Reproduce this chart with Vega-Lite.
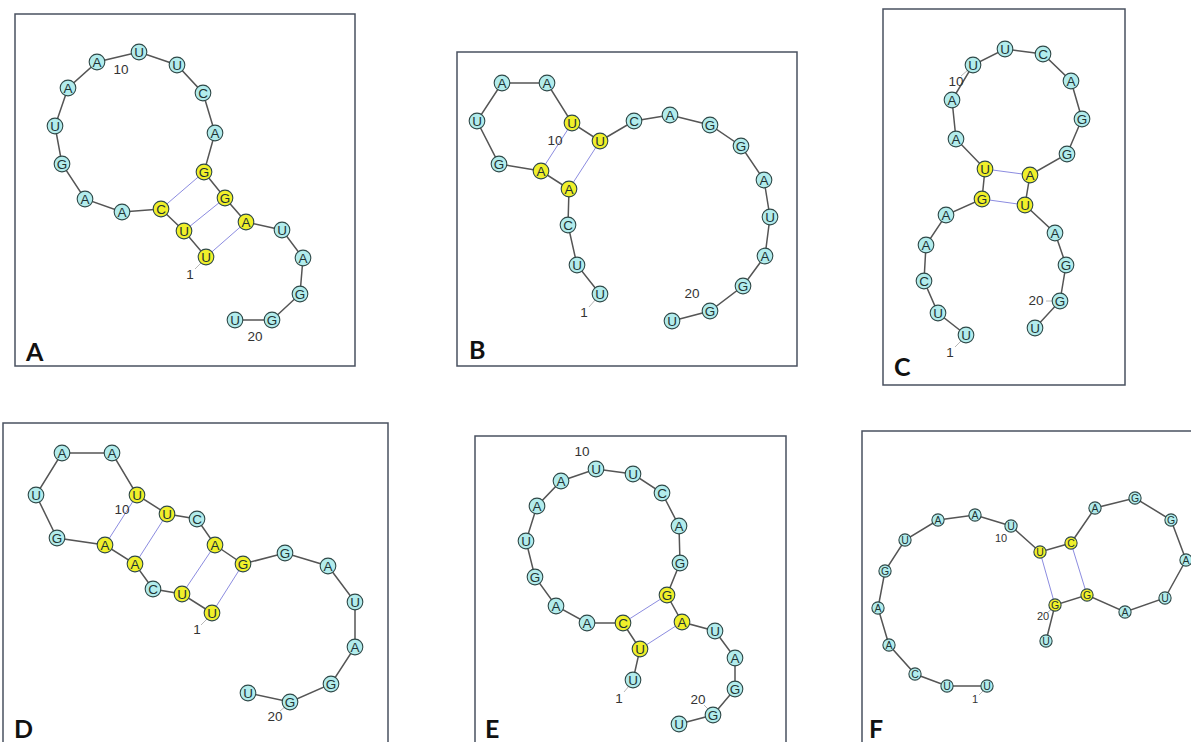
{
  "$schema": "https://vega.github.io/schema/vega-lite/v6.json",
  "width": 1191,
  "height": 742,
  "autosize": {"type": "none"},
  "padding": 0,
  "background": "white",
  "config": {"view": {"stroke": null}},
  "datasets": {
    "boxes": [
      {"p": "A", "x0": 15, "y0": 14, "x1": 355, "y1": 366, "lx": 26, "ly": 361},
      {"p": "B", "x0": 457, "y0": 52, "x1": 797, "y1": 366, "lx": 469, "ly": 359},
      {"p": "C", "x0": 883, "y0": 9, "x1": 1125, "y1": 385, "lx": 894, "ly": 376},
      {"p": "D", "x0": 3, "y0": 423, "x1": 388, "y1": 750, "lx": 14, "ly": 738},
      {"p": "E", "x0": 475, "y0": 436, "x1": 786, "y1": 750, "lx": 485, "ly": 738},
      {"p": "F", "x0": 862, "y0": 431, "x1": 1200, "y1": 750, "lx": 869, "ly": 738}
    ],
    "nodes": [
      {"id": "A1", "p": "A", "i": 1, "b": "U", "x": 206, "y": 257, "paired": true},
      {"id": "A2", "p": "A", "i": 2, "b": "U", "x": 184, "y": 231, "paired": true},
      {"id": "A3", "p": "A", "i": 3, "b": "C", "x": 161, "y": 209, "paired": true},
      {"id": "A4", "p": "A", "i": 4, "b": "A", "x": 122, "y": 212, "paired": false},
      {"id": "A5", "p": "A", "i": 5, "b": "A", "x": 85, "y": 199, "paired": false},
      {"id": "A6", "p": "A", "i": 6, "b": "G", "x": 62, "y": 164, "paired": false},
      {"id": "A7", "p": "A", "i": 7, "b": "U", "x": 55, "y": 126, "paired": false},
      {"id": "A8", "p": "A", "i": 8, "b": "A", "x": 68, "y": 88, "paired": false},
      {"id": "A9", "p": "A", "i": 9, "b": "A", "x": 97, "y": 62, "paired": false},
      {"id": "A10", "p": "A", "i": 10, "b": "U", "x": 139, "y": 52, "paired": false},
      {"id": "A11", "p": "A", "i": 11, "b": "U", "x": 177, "y": 65, "paired": false},
      {"id": "A12", "p": "A", "i": 12, "b": "C", "x": 203, "y": 93, "paired": false},
      {"id": "A13", "p": "A", "i": 13, "b": "A", "x": 215, "y": 133, "paired": false},
      {"id": "A14", "p": "A", "i": 14, "b": "G", "x": 204, "y": 172, "paired": true},
      {"id": "A15", "p": "A", "i": 15, "b": "G", "x": 225, "y": 198, "paired": true},
      {"id": "A16", "p": "A", "i": 16, "b": "A", "x": 246, "y": 222, "paired": true},
      {"id": "A17", "p": "A", "i": 17, "b": "U", "x": 282, "y": 230, "paired": false},
      {"id": "A18", "p": "A", "i": 18, "b": "A", "x": 303, "y": 258, "paired": false},
      {"id": "A19", "p": "A", "i": 19, "b": "G", "x": 300, "y": 294, "paired": false},
      {"id": "A20", "p": "A", "i": 20, "b": "G", "x": 272, "y": 320, "paired": false},
      {"id": "A21", "p": "A", "i": 21, "b": "U", "x": 235, "y": 320, "paired": false},

      {"id": "B1", "p": "B", "i": 1, "b": "U", "x": 600, "y": 294, "paired": false},
      {"id": "B2", "p": "B", "i": 2, "b": "U", "x": 577, "y": 265, "paired": false},
      {"id": "B3", "p": "B", "i": 3, "b": "C", "x": 568, "y": 225, "paired": false},
      {"id": "B4", "p": "B", "i": 4, "b": "A", "x": 569, "y": 189, "paired": true},
      {"id": "B5", "p": "B", "i": 5, "b": "A", "x": 541, "y": 171, "paired": true},
      {"id": "B6", "p": "B", "i": 6, "b": "G", "x": 499, "y": 164, "paired": false},
      {"id": "B7", "p": "B", "i": 7, "b": "U", "x": 477, "y": 121, "paired": false},
      {"id": "B8", "p": "B", "i": 8, "b": "A", "x": 502, "y": 83, "paired": false},
      {"id": "B9", "p": "B", "i": 9, "b": "A", "x": 547, "y": 83, "paired": false},
      {"id": "B10", "p": "B", "i": 10, "b": "U", "x": 572, "y": 123, "paired": true},
      {"id": "B11", "p": "B", "i": 11, "b": "U", "x": 600, "y": 141, "paired": true},
      {"id": "B12", "p": "B", "i": 12, "b": "C", "x": 634, "y": 121, "paired": false},
      {"id": "B13", "p": "B", "i": 13, "b": "A", "x": 670, "y": 115, "paired": false},
      {"id": "B14", "p": "B", "i": 14, "b": "G", "x": 710, "y": 125, "paired": false},
      {"id": "B15", "p": "B", "i": 15, "b": "G", "x": 741, "y": 146, "paired": false},
      {"id": "B16", "p": "B", "i": 16, "b": "A", "x": 764, "y": 180, "paired": false},
      {"id": "B17", "p": "B", "i": 17, "b": "U", "x": 770, "y": 217, "paired": false},
      {"id": "B18", "p": "B", "i": 18, "b": "A", "x": 765, "y": 256, "paired": false},
      {"id": "B19", "p": "B", "i": 19, "b": "G", "x": 743, "y": 286, "paired": false},
      {"id": "B20", "p": "B", "i": 20, "b": "G", "x": 710, "y": 311, "paired": false},
      {"id": "B21", "p": "B", "i": 21, "b": "U", "x": 672, "y": 321, "paired": false},

      {"id": "C1", "p": "C", "i": 1, "b": "U", "x": 966, "y": 335, "paired": false},
      {"id": "C2", "p": "C", "i": 2, "b": "U", "x": 938, "y": 313, "paired": false},
      {"id": "C3", "p": "C", "i": 3, "b": "C", "x": 924, "y": 281, "paired": false},
      {"id": "C4", "p": "C", "i": 4, "b": "A", "x": 926, "y": 245, "paired": false},
      {"id": "C5", "p": "C", "i": 5, "b": "A", "x": 946, "y": 215, "paired": false},
      {"id": "C6", "p": "C", "i": 6, "b": "G", "x": 982, "y": 199, "paired": true},
      {"id": "C7", "p": "C", "i": 7, "b": "U", "x": 985, "y": 169, "paired": true},
      {"id": "C8", "p": "C", "i": 8, "b": "A", "x": 956, "y": 139, "paired": false},
      {"id": "C9", "p": "C", "i": 9, "b": "A", "x": 952, "y": 100, "paired": false},
      {"id": "C10", "p": "C", "i": 10, "b": "U", "x": 973, "y": 65, "paired": false},
      {"id": "C11", "p": "C", "i": 11, "b": "U", "x": 1005, "y": 49, "paired": false},
      {"id": "C12", "p": "C", "i": 12, "b": "C", "x": 1043, "y": 54, "paired": false},
      {"id": "C13", "p": "C", "i": 13, "b": "A", "x": 1071, "y": 81, "paired": false},
      {"id": "C14", "p": "C", "i": 14, "b": "G", "x": 1082, "y": 119, "paired": false},
      {"id": "C15", "p": "C", "i": 15, "b": "G", "x": 1067, "y": 154, "paired": false},
      {"id": "C16", "p": "C", "i": 16, "b": "A", "x": 1030, "y": 175, "paired": true},
      {"id": "C17", "p": "C", "i": 17, "b": "U", "x": 1025, "y": 205, "paired": true},
      {"id": "C18", "p": "C", "i": 18, "b": "A", "x": 1055, "y": 233, "paired": false},
      {"id": "C19", "p": "C", "i": 19, "b": "G", "x": 1066, "y": 265, "paired": false},
      {"id": "C20", "p": "C", "i": 20, "b": "G", "x": 1060, "y": 301, "paired": false},
      {"id": "C21", "p": "C", "i": 21, "b": "U", "x": 1035, "y": 328, "paired": false},

      {"id": "D1", "p": "D", "i": 1, "b": "U", "x": 212, "y": 613, "paired": true},
      {"id": "D2", "p": "D", "i": 2, "b": "U", "x": 182, "y": 594, "paired": true},
      {"id": "D3", "p": "D", "i": 3, "b": "C", "x": 153, "y": 589, "paired": false},
      {"id": "D4", "p": "D", "i": 4, "b": "A", "x": 135, "y": 564, "paired": true},
      {"id": "D5", "p": "D", "i": 5, "b": "A", "x": 105, "y": 545, "paired": true},
      {"id": "D6", "p": "D", "i": 6, "b": "G", "x": 57, "y": 538, "paired": false},
      {"id": "D7", "p": "D", "i": 7, "b": "U", "x": 36, "y": 495, "paired": false},
      {"id": "D8", "p": "D", "i": 8, "b": "A", "x": 62, "y": 453, "paired": false},
      {"id": "D9", "p": "D", "i": 9, "b": "A", "x": 112, "y": 453, "paired": false},
      {"id": "D10", "p": "D", "i": 10, "b": "U", "x": 137, "y": 495, "paired": true},
      {"id": "D11", "p": "D", "i": 11, "b": "U", "x": 167, "y": 514, "paired": true},
      {"id": "D12", "p": "D", "i": 12, "b": "C", "x": 197, "y": 519, "paired": false},
      {"id": "D13", "p": "D", "i": 13, "b": "A", "x": 215, "y": 545, "paired": true},
      {"id": "D14", "p": "D", "i": 14, "b": "G", "x": 243, "y": 564, "paired": true},
      {"id": "D15", "p": "D", "i": 15, "b": "G", "x": 285, "y": 553, "paired": false},
      {"id": "D16", "p": "D", "i": 16, "b": "A", "x": 328, "y": 566, "paired": false},
      {"id": "D17", "p": "D", "i": 17, "b": "U", "x": 355, "y": 602, "paired": false},
      {"id": "D18", "p": "D", "i": 18, "b": "A", "x": 355, "y": 647, "paired": false},
      {"id": "D19", "p": "D", "i": 19, "b": "G", "x": 331, "y": 684, "paired": false},
      {"id": "D20", "p": "D", "i": 20, "b": "G", "x": 290, "y": 702, "paired": false},
      {"id": "D21", "p": "D", "i": 21, "b": "U", "x": 248, "y": 693, "paired": false},

      {"id": "E1", "p": "E", "i": 1, "b": "U", "x": 633, "y": 680, "paired": false},
      {"id": "E2", "p": "E", "i": 2, "b": "U", "x": 640, "y": 649, "paired": true},
      {"id": "E3", "p": "E", "i": 3, "b": "C", "x": 623, "y": 623, "paired": true},
      {"id": "E4", "p": "E", "i": 4, "b": "A", "x": 587, "y": 623, "paired": false},
      {"id": "E5", "p": "E", "i": 5, "b": "A", "x": 556, "y": 606, "paired": false},
      {"id": "E6", "p": "E", "i": 6, "b": "G", "x": 535, "y": 577, "paired": false},
      {"id": "E7", "p": "E", "i": 7, "b": "U", "x": 526, "y": 541, "paired": false},
      {"id": "E8", "p": "E", "i": 8, "b": "A", "x": 537, "y": 506, "paired": false},
      {"id": "E9", "p": "E", "i": 9, "b": "A", "x": 561, "y": 481, "paired": false},
      {"id": "E10", "p": "E", "i": 10, "b": "U", "x": 596, "y": 469, "paired": false},
      {"id": "E11", "p": "E", "i": 11, "b": "U", "x": 633, "y": 474, "paired": false},
      {"id": "E12", "p": "E", "i": 12, "b": "C", "x": 662, "y": 493, "paired": false},
      {"id": "E13", "p": "E", "i": 13, "b": "A", "x": 679, "y": 526, "paired": false},
      {"id": "E14", "p": "E", "i": 14, "b": "G", "x": 680, "y": 563, "paired": false},
      {"id": "E15", "p": "E", "i": 15, "b": "G", "x": 667, "y": 595, "paired": true},
      {"id": "E16", "p": "E", "i": 16, "b": "A", "x": 682, "y": 622, "paired": true},
      {"id": "E17", "p": "E", "i": 17, "b": "U", "x": 715, "y": 631, "paired": false},
      {"id": "E18", "p": "E", "i": 18, "b": "A", "x": 735, "y": 658, "paired": false},
      {"id": "E19", "p": "E", "i": 19, "b": "G", "x": 735, "y": 689, "paired": false},
      {"id": "E20", "p": "E", "i": 20, "b": "G", "x": 713, "y": 715, "paired": false},
      {"id": "E21", "p": "E", "i": 21, "b": "U", "x": 679, "y": 724, "paired": false},

      {"id": "F1", "p": "F", "i": 1, "b": "U", "x": 987, "y": 686, "paired": false},
      {"id": "F2", "p": "F", "i": 2, "b": "U", "x": 947, "y": 686, "paired": false},
      {"id": "F3", "p": "F", "i": 3, "b": "C", "x": 915, "y": 674, "paired": false},
      {"id": "F4", "p": "F", "i": 4, "b": "A", "x": 889, "y": 645, "paired": false},
      {"id": "F5", "p": "F", "i": 5, "b": "A", "x": 878, "y": 608, "paired": false},
      {"id": "F6", "p": "F", "i": 6, "b": "G", "x": 885, "y": 571, "paired": false},
      {"id": "F7", "p": "F", "i": 7, "b": "U", "x": 905, "y": 540, "paired": false},
      {"id": "F8", "p": "F", "i": 8, "b": "A", "x": 938, "y": 520, "paired": false},
      {"id": "F9", "p": "F", "i": 9, "b": "A", "x": 975, "y": 515, "paired": false},
      {"id": "F10", "p": "F", "i": 10, "b": "U", "x": 1011, "y": 526, "paired": false},
      {"id": "F11", "p": "F", "i": 11, "b": "U", "x": 1040, "y": 552, "paired": true},
      {"id": "F12", "p": "F", "i": 12, "b": "C", "x": 1071, "y": 543, "paired": true},
      {"id": "F13", "p": "F", "i": 13, "b": "A", "x": 1095, "y": 508, "paired": false},
      {"id": "F14", "p": "F", "i": 14, "b": "G", "x": 1135, "y": 498, "paired": false},
      {"id": "F15", "p": "F", "i": 15, "b": "G", "x": 1171, "y": 520, "paired": false},
      {"id": "F16", "p": "F", "i": 16, "b": "A", "x": 1186, "y": 560, "paired": false},
      {"id": "F17", "p": "F", "i": 17, "b": "U", "x": 1165, "y": 598, "paired": false},
      {"id": "F18", "p": "F", "i": 18, "b": "A", "x": 1125, "y": 612, "paired": false},
      {"id": "F19", "p": "F", "i": 19, "b": "G", "x": 1087, "y": 595, "paired": true},
      {"id": "F20", "p": "F", "i": 20, "b": "G", "x": 1055, "y": 605, "paired": true},
      {"id": "F21", "p": "F", "i": 21, "b": "U", "x": 1046, "y": 641, "paired": false}
    ],
    "pairs": [
      {"p": "A", "from": "A1", "to": "A16"},
      {"p": "A", "from": "A2", "to": "A15"},
      {"p": "A", "from": "A3", "to": "A14"},
      {"p": "B", "from": "B4", "to": "B11"},
      {"p": "B", "from": "B5", "to": "B10"},
      {"p": "C", "from": "C6", "to": "C17"},
      {"p": "C", "from": "C7", "to": "C16"},
      {"p": "D", "from": "D1", "to": "D14"},
      {"p": "D", "from": "D2", "to": "D13"},
      {"p": "D", "from": "D4", "to": "D11"},
      {"p": "D", "from": "D5", "to": "D10"},
      {"p": "E", "from": "E2", "to": "E16"},
      {"p": "E", "from": "E3", "to": "E15"},
      {"p": "F", "from": "F11", "to": "F20"},
      {"p": "F", "from": "F12", "to": "F19"}
    ],
    "labels": [
      {"p": "A", "t": "10", "x": 121, "y": 70},
      {"p": "A", "t": "1", "x": 190, "y": 275},
      {"p": "A", "t": "20", "x": 255, "y": 337},
      {"p": "B", "t": "10", "x": 555, "y": 141},
      {"p": "B", "t": "1", "x": 584, "y": 313},
      {"p": "B", "t": "20", "x": 692, "y": 294},
      {"p": "C", "t": "10", "x": 956, "y": 82},
      {"p": "C", "t": "1", "x": 950, "y": 353},
      {"p": "C", "t": "20", "x": 1036, "y": 301},
      {"p": "D", "t": "10", "x": 122, "y": 510},
      {"p": "D", "t": "1", "x": 197, "y": 630},
      {"p": "D", "t": "20", "x": 275, "y": 717},
      {"p": "E", "t": "10", "x": 582, "y": 452},
      {"p": "E", "t": "1", "x": 619, "y": 699},
      {"p": "E", "t": "20", "x": 698, "y": 700},
      {"p": "F", "t": "10", "x": 1001, "y": 539},
      {"p": "F", "t": "1", "x": 975, "y": 700},
      {"p": "F", "t": "20", "x": 1043, "y": 617}
    ],
    "ticks": [
      {"p": "A", "x": 195, "y": 269, "x2": 203, "y2": 261},
      {"p": "B", "x": 589, "y": 307, "x2": 596, "y2": 299},
      {"p": "C", "x": 955, "y": 347, "x2": 962, "y2": 340},
      {"p": "C", "x": 961, "y": 76, "x2": 968, "y2": 70},
      {"p": "C", "x": 1046, "y": 301, "x2": 1053, "y2": 301},
      {"p": "D", "x": 201, "y": 625, "x2": 208, "y2": 618},
      {"p": "D", "x": 280, "y": 711, "x2": 286, "y2": 706},
      {"p": "E", "x": 624, "y": 692, "x2": 629, "y2": 686},
      {"p": "E", "x": 704, "y": 705, "x2": 709, "y2": 710},
      {"p": "F", "x": 979, "y": 695, "x2": 984, "y2": 690},
      {"p": "F", "x": 1048, "y": 612, "x2": 1052, "y2": 609}
    ]
  },
  "layer": [
    {
      "data": {"name": "boxes"},
      "mark": {"type": "rect", "fill": "white", "stroke": "#4a5160", "strokeWidth": 1.5},
      "encoding": {
        "x": {"field": "x0", "type": "quantitative", "scale": {"domain": [0, 1191], "nice": false, "zero": false}, "axis": null},
        "x2": {"field": "x1"},
        "y": {"field": "y0", "type": "quantitative", "scale": {"domain": [0, 742], "nice": false, "zero": false, "reverse": true}, "axis": null},
        "y2": {"field": "y1"}
      }
    },
    {
      "data": {"name": "ticks"},
      "mark": {"type": "rule", "stroke": "#b8b8b8", "strokeWidth": 1},
      "encoding": {
        "x": {"field": "x", "type": "quantitative"},
        "y": {"field": "y", "type": "quantitative"},
        "x2": {"field": "x2"},
        "y2": {"field": "y2"}
      }
    },
    {
      "data": {"name": "nodes"},
      "mark": {"type": "line", "stroke": "#555555", "strokeWidth": 1.5},
      "encoding": {
        "x": {"field": "x", "type": "quantitative"},
        "y": {"field": "y", "type": "quantitative"},
        "detail": {"field": "p"},
        "order": {"field": "i", "type": "quantitative"}
      }
    },
    {
      "data": {"name": "pairs"},
      "transform": [
        {"lookup": "from", "from": {"data": {"name": "nodes"}, "key": "id", "fields": ["x", "y"]}, "as": ["xa", "ya"]},
        {"lookup": "to", "from": {"data": {"name": "nodes"}, "key": "id", "fields": ["x", "y"]}, "as": ["xb", "yb"]}
      ],
      "mark": {"type": "rule", "stroke": "#8c8ce0", "strokeWidth": 1},
      "encoding": {
        "x": {"field": "xa", "type": "quantitative"},
        "y": {"field": "ya", "type": "quantitative"},
        "x2": {"field": "xb"},
        "y2": {"field": "yb"}
      }
    },
    {
      "data": {"name": "nodes"},
      "mark": {"type": "circle", "opacity": 1, "stroke": "#2f4948", "strokeWidth": 1.1},
      "encoding": {
        "x": {"field": "x", "type": "quantitative"},
        "y": {"field": "y", "type": "quantitative"},
        "fill": {"field": "paired", "type": "nominal", "scale": {"domain": [false, true], "range": ["#b2ecec", "#f0f02a"]}, "legend": null},
        "size": {"condition": {"test": "datum.p === 'F'", "value": 150}, "value": 245}
      }
    },
    {
      "data": {"name": "nodes"},
      "mark": {"type": "text", "font": "Liberation Sans", "color": "#1e3434", "align": "center", "baseline": "middle", "dy": 0.5},
      "encoding": {
        "x": {"field": "x", "type": "quantitative"},
        "y": {"field": "y", "type": "quantitative"},
        "text": {"field": "b"},
        "size": {"condition": {"test": "datum.p === 'F'", "value": 10.5}, "value": 13.5}
      }
    },
    {
      "data": {"name": "labels"},
      "mark": {"type": "text", "font": "Liberation Sans", "color": "#333333", "align": "center", "baseline": "middle"},
      "encoding": {
        "x": {"field": "x", "type": "quantitative"},
        "y": {"field": "y", "type": "quantitative"},
        "text": {"field": "t"},
        "size": {"condition": {"test": "datum.p === 'F'", "value": 11}, "value": 13.5}
      }
    },
    {
      "data": {"name": "boxes"},
      "mark": {"type": "text", "font": "Lato", "fontWeight": "bold", "fontSize": 25, "color": "#111111", "align": "left", "baseline": "alphabetic"},
      "encoding": {
        "x": {"field": "lx", "type": "quantitative"},
        "y": {"field": "ly", "type": "quantitative"},
        "text": {"field": "p"}
      }
    }
  ]
}
